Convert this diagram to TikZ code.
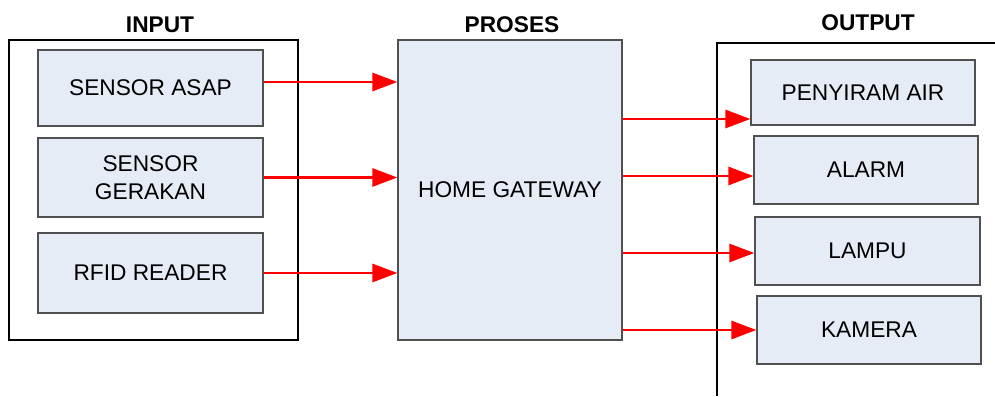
\documentclass[tikz,border=0pt]{standalone}
\usepackage{fontspec}
\setmainfont{Liberation Sans}
\usetikzlibrary{arrows.meta}
\definecolor{boxfill}{RGB}{230,236,246}
\definecolor{boxline}{RGB}{80,80,80}
\begin{document}
\begin{tikzpicture}[x=1pt,y=-1pt,
  every node/.style={font=\fontsize{22.7}{26}\selectfont, inner sep=0pt},
  unit/.style={draw=boxline, line width=1.2pt, fill=boxfill, align=center},
  frame/.style={draw=black, line width=2.8pt},
  heading/.style={font=\fontsize{22.7}{26}\selectfont\bfseries},
  flow/.style={draw=red, line width=2.8pt, -{Triangle[length=25pt,width=18pt]}}]
  \useasboundingbox (0,0) rectangle (995,396);

  % input group
  \draw[frame] (9,40) rectangle (298,340);
  \node[heading] (tin) at (160,25) {INPUT};
  \node[unit, minimum width=225pt, minimum height=76pt] (sa) at (150.5,88) {SENSOR ASAP};
  \node[unit, minimum width=225pt, minimum height=79pt] (sg) at (150.5,177.5) {SENSOR\\[2pt]GERAKAN};
  \node[unit, minimum width=225pt, minimum height=80pt] (rf) at (150.5,273) {RFID READER};

  % process
  \node[heading] (tpr) at (512,25) {PROSES};
  \node[unit, minimum width=224pt, minimum height=300pt] (pr) at (510,190) {HOME GATEWAY};

  % output group
  \coordinate (ofr) at (717,396);
  \draw[frame] (ofr) -- (717,43) -- (996,43);
  \node[heading] (tout) at (868,23) {OUTPUT};
  \node[unit, minimum width=224pt, minimum height=65pt] (o1) at (863,92.5) {PENYIRAM AIR};
  \node[unit, minimum width=224pt, minimum height=68pt] (o2) at (866,170) {ALARM};
  \node[unit, minimum width=225pt, minimum height=68pt] (o3) at (867.5,251) {LAMPU};
  \node[unit, minimum width=224pt, minimum height=68pt] (o4) at (869,330) {KAMERA};

  % connections
  \draw[flow] ([yshift=6pt]sa.east) -- ([yshift=6pt]sa.east -| pr.west);
  \draw[flow] (sg.east) -- (sg.east -| pr.west);
  \draw[flow] (rf.east) -- (rf.east -| pr.west);
  \draw[flow] ([yshift=-26.5pt]o1.west -| pr.east) -- ([yshift=-26.5pt]o1.west);
  \draw[flow] ([yshift=-6pt]o2.west -| pr.east) -- ([yshift=-6pt]o2.west);
  \draw[flow] ([yshift=-2pt]o3.west -| pr.east) -- ([yshift=-2pt]o3.west);
  \draw[flow] (o4.west -| pr.east) -- (o4.west);
\end{tikzpicture}
\end{document}
